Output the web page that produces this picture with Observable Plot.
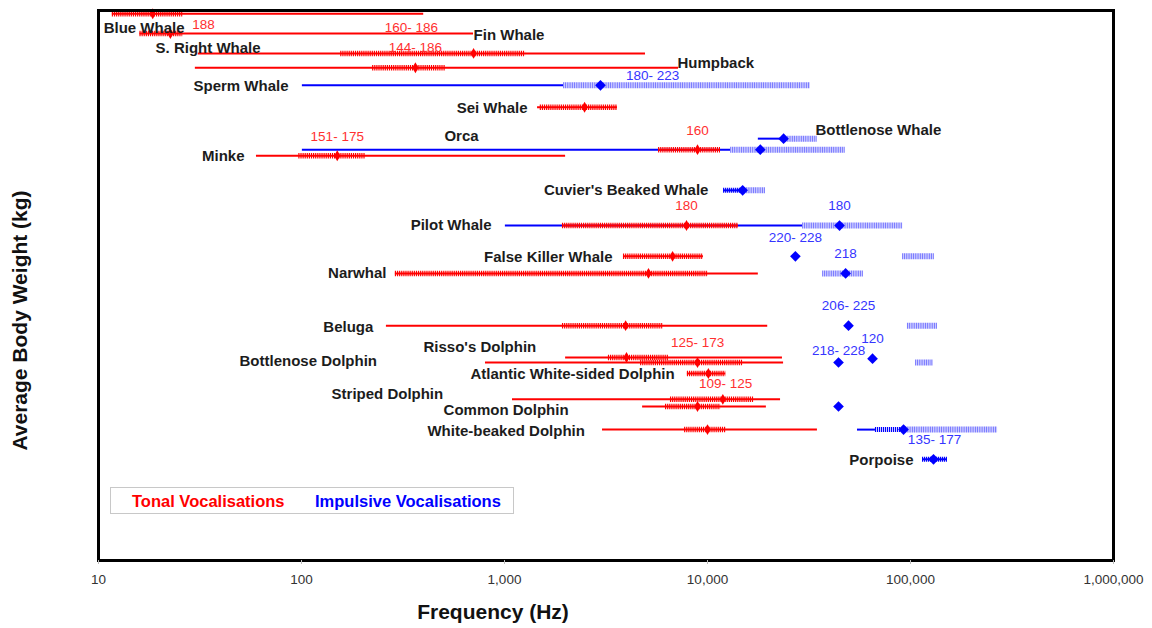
<!DOCTYPE html>
<html>
<head>
<meta charset="utf-8">
<script src="https://cdn.jsdelivr.net/npm/d3@7"></script>
<script src="https://cdn.jsdelivr.net/npm/@observablehq/plot@0.6"></script>
<style>
  body { margin: 0; background: #fff; }
  #wrap { position: relative; width: 1152px; height: 628px; }
  #legend { position: absolute; left: 110px; top: 487px; width: 402px; height: 25px;
    border: 1px solid #c8c8c8; font: bold 16.5px "Liberation Sans", Arial, sans-serif; background: #fff; }
  #legend span { position: absolute; top: 4px; white-space: nowrap; }
</style>
</head>
<body>
<div id="wrap">
  <div id="legend"><span style="left:21px;color:#ff0000">Tonal Vocalisations</span><span style="left:204px;color:#0000ff">Impulsive Vocalisations</span></div>
</div>
<script>
// ---------- DATA (frequencies in Hz, weight position on an arbitrary 0-100 body-weight axis) ----------
const tonalSpecies = ["Blue Whale","Fin Whale","S. Right Whale","Humpback","Sei Whale","Orca","Minke","Pilot Whale","False Killer Whale","Narwhal","Beluga","Risso's Dolphin","Bottlenose Dolphin","Atlantic White-sided Dolphin","Striped Dolphin","Common Dolphin","White-beaked Dolphin"];
const tonalWeight  = [99.4, 95.8, 92.2, 89.6, 82.4, 74.7, 73.6, 60.9, 55.3, 52.2, 42.7, 36.9, 36.0, 34.0, 29.3, 28.0, 23.8];
const tonalMin     = [11.7, 16, 31, 30, 1455, 5740, 60, 1930, 3855, 290, 262, 2000, 806, 7960, 1095, 4790, 3040];
const tonalMax     = [400, 704, 4950, 7200, 3600, 11590, 2000, 14200, 9550, 17800, 19800, 23400, 23700, 12300, 22900, 19500, 34800];
const tonalCoreMin = [11.7, 16, 156, 224, 1500, 5740, 97, 1930, 3855, 290, 1930, 3250, 4680, 7960, 6570, 6210, 7710];
const tonalCoreMax = [26, 26, 1270, 512, 3600, 11590, 207, 14200, 9550, 10100, 6070, 6420, 14900, 12300, 16900, 11600, 12300];
const tonalPeak    = [18.5, 22.6, 704, 364, 2480, 8930, 150, 7880, 6730, 5120, 3950, 3990, 8930, 10100, 11900, 8930, 10000];

const impSpecies  = ["Sperm Whale","Bottlenose Whale","Orca","Cuvier's Beaked Whale","Pilot Whale","False Killer Whale","Narwhal","Beluga","Risso's Dolphin","Bottlenose Dolphin","Common Dolphin","White-beaked Dolphin","Porpoise"];
const impWeight   = [86.4, 76.7, 74.7, 67.3, 60.9, 55.3, 52.2, 42.7, 36.7, 36.0, 28.0, 23.8, 18.4];
const impLineMin  = [101, 17800, 101, 12000, 1010, null, null, null, null, null, null, 54800, 114600];
const impLineMax  = [1954, 23700, 13000, 14900, 29400, null, null, null, null, null, null, 67200, 152100];
const impDarkMin  = [null, null, null, 12000, null, null, null, null, null, null, null, 67200, 114600];
const impDarkMax  = [null, null, null, 14900, null, null, null, null, null, null, null, 92400, 152100];
const impHatchMin = [1954, 23700, 13000, 14900, 29400, 91400, 36900, 96600, null, 105900, null, 92400, null];
const impHatchMax = [32150, 34800, 47900, 19300, 91400, 131300, 58700, 135900, null, 129800, null, 268400, null];
const impPeak     = [2970, 23700, 18200, 14900, 44700, 27100, 47900, 49500, 65000, 44200, 44200, 92400, 129800];

// species name labels
const nameText   = ["Blue Whale","S. Right Whale","Fin Whale","Humpback","Sperm Whale","Sei Whale","Bottlenose Whale","Orca","Minke","Cuvier's Beaked Whale","Pilot Whale","False Killer Whale","Narwhal","Beluga","Risso's Dolphin","Bottlenose Dolphin","Atlantic White-sided Dolphin","Striped Dolphin","Common Dolphin","White-beaked Dolphin","Porpoise"];
const nameFreq   = [10.6, 19.1, 704, 7110, 86.3, 1298, 34000, 506, 52.4, 10110, 863, 3404, 262, 226, 399, 49.5, 680, 140.6, 501, 2490, 103500];
const nameWeight = [96.7, 93.1, 95.6, 90.4, 86.2, 82.2, 78.2, 77.1, 73.6, 67.3, 60.9, 55.1, 52.2, 42.5, 38.7, 36.2, 33.8, 30.2, 27.3, 23.6, 18.2];
const nameAnchor = ["start","start","start","start","end","end","start","start","end","end","end","end","end","end","start","start","start","start","start","end","end"];

// source-level labels (dB)
const levelText   = ["188","160- 186","144- 186","180- 223","151- 175","160","180","180","220- 228","218","206- 225","120","218- 228","125- 173","109- 125","135- 177"];
const levelKind   = ["tonal","tonal","tonal","impulsive","tonal","tonal","tonal","impulsive","impulsive","impulsive","impulsive","impulsive","impulsive","tonal","tonal","impulsive"];
const levelFreq   = [32.9, 348, 364, 5360, 150, 8930, 7880, 44700, 27100, 47900, 49500, 65000, 44200, 8930, 12270, 131300];
const levelWeight = [97.5, 96.9, 93.3, 88.2, 77.1, 78.2, 64.5, 64.5, 58.7, 55.8, 46.4, 40.4, 38.2, 39.6, 32.2, 22.0];

const xTicks = [10, 100, 1000, 10000, 100000, 1000000];

// ---------- TABLES ----------
const tonal = tonalSpecies.map((s, i) => ({species: s, w: tonalWeight[i], lo: tonalMin[i], hi: tonalMax[i], clo: tonalCoreMin[i], chi: tonalCoreMax[i], peak: tonalPeak[i]}));
const imp = impSpecies.map((s, i) => ({species: s, w: impWeight[i], lo: impLineMin[i], hi: impLineMax[i], dlo: impDarkMin[i], dhi: impDarkMax[i], hlo: impHatchMin[i], hhi: impHatchMax[i], peak: impPeak[i]}));
const names = nameText.map((t, i) => ({t, f: nameFreq[i], w: nameWeight[i], a: nameAnchor[i]}));
const levels = levelText.map((t, i) => ({t, k: levelKind[i], f: levelFreq[i], w: levelWeight[i]}));

const RED = "#ff0000", BLUE = "#0000ff", LIGHTBLUE = "#7c7cff";
const FONT = '"Liberation Sans", Arial, sans-serif';

const chart = Plot.plot({
  width: 1152, height: 628,
  marginLeft: 98, marginRight: 39, marginTop: 10, marginBottom: 68,
  style: {fontFamily: FONT, fontSize: "13.5px", background: "transparent", overflow: "visible"},
  x: {type: "log", domain: [10, 1e6], axis: null},
  y: {domain: [0, 100], axis: null},
  marks: [
    // impulsive
    Plot.ruleY(imp.filter(d => d.lo != null), {y: "w", x1: "lo", x2: "hi", stroke: BLUE, strokeWidth: 2}),
    Plot.ruleY(imp.filter(d => d.hlo != null), {y: "w", x1: "hlo", x2: "hhi", stroke: LIGHTBLUE, strokeWidth: 6, strokeDasharray: "1.2,0.6"}),
    Plot.ruleY(imp.filter(d => d.dlo != null), {y: "w", x1: "dlo", x2: "dhi", stroke: BLUE, strokeWidth: 5, strokeDasharray: "1.2,0.8"}),
    // tonal
    Plot.ruleY(tonal, {y: "w", x1: "lo", x2: "hi", stroke: RED, strokeWidth: 2}),
    Plot.ruleY(tonal, {y: "w", x1: "clo", x2: "chi", stroke: RED, strokeWidth: 5.5, strokeDasharray: "1.2,0.9"}),
    Plot.dot(imp, {x: "peak", y: "w", symbol: "diamond2", r: 4.8, fill: BLUE}),
    Plot.dot(tonal, {x: "peak", y: "w", symbol: "diamond", r: 3.3, fill: RED}),
    // labels
    Plot.text(names.filter(d => d.a === "start"), {x: "f", y: "w", text: "t", textAnchor: "start", fontSize: 15, fontWeight: "bold", fill: "#1c1c1c"}),
    Plot.text(names.filter(d => d.a === "end"), {x: "f", y: "w", text: "t", textAnchor: "end", fontSize: 15, fontWeight: "bold", fill: "#1c1c1c"}),
    Plot.text(levels, {x: "f", y: "w", text: "t", fontSize: 13.5, fill: d => d.k === "tonal" ? "#ff3030" : "#3535ff"}),
    // frame & axes
    Plot.frame({stroke: "black", strokeWidth: 3}),
    Plot.axisX({ticks: xTicks, tickFormat: d3.format(","), tickSize: 4, tickPadding: 10, stroke: "#bbb", fill: "#333", label: null}),
    Plot.text(["Frequency (Hz)"], {frameAnchor: "bottom", textAnchor: "middle", lineAnchor: "middle", dx: -113, dy: 52, fontSize: 21, fontWeight: "bold", fill: "#111"}),
    Plot.text(["Average Body Weight (kg)"], {frameAnchor: "left", textAnchor: "middle", lineAnchor: "middle", rotate: -90, dx: -78, dy: 35, fontSize: 21, fontWeight: "bold", fill: "#111"})
  ]
});
chart.style.position = "absolute";
chart.style.left = "0";
chart.style.top = "0";
document.getElementById("wrap").prepend(chart);
</script>
</body>
</html>
